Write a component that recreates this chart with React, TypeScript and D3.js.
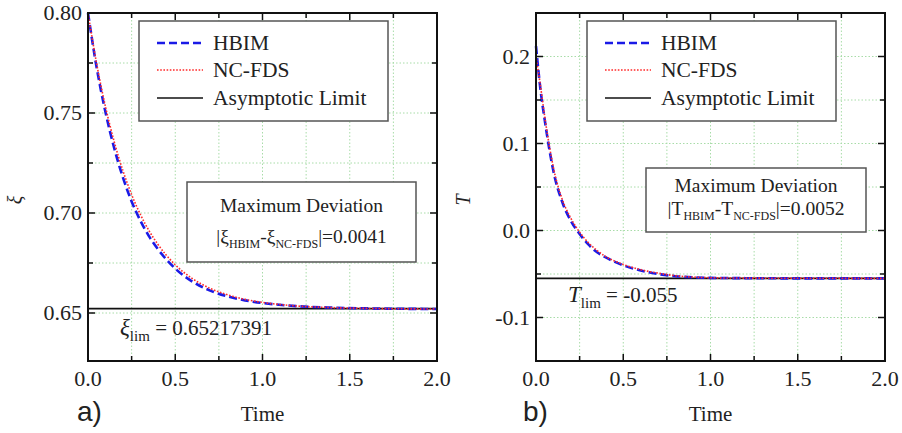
import React from 'react';
import * as d3 from 'd3';

// values
const timeA = [0, 0.05, 0.1, 0.15, 0.2, 0.25, 0.3, 0.35, 0.4, 0.5, 0.6, 0.7, 0.8, 0.9, 1.0, 1.2, 1.4, 1.6, 1.8, 2.0];
const xiHbim = [0.800, 0.7725, 0.7505, 0.7325, 0.7178, 0.7058, 0.6962, 0.6883, 0.6820, 0.6722, 0.6656, 0.6612, 0.6583, 0.6563, 0.6550, 0.6534, 0.6527, 0.6523, 0.6521, 0.6520];
const xiNcfds = [0.800, 0.7744, 0.7532, 0.7357, 0.7212, 0.7092, 0.6993, 0.6911, 0.6844, 0.6741, 0.6671, 0.6623, 0.6591, 0.6568, 0.6553, 0.6535, 0.6527, 0.6523, 0.6521, 0.6520];
const xiLim = 0.65217391;

const timeB = [0, 0.025, 0.05, 0.075, 0.1, 0.15, 0.2, 0.25, 0.3, 0.35, 0.4, 0.5, 0.6, 0.7, 0.8, 0.9, 1.0, 1.2, 1.5, 2.0];
const tHbim = [0.212, 0.163, 0.127, 0.095, 0.068, 0.033, 0.011, -0.004, -0.016, -0.025, -0.031, -0.040, -0.046, -0.050, -0.0525, -0.0538, -0.0544, -0.0548, -0.0550, -0.0550];
const tNcfds = [0.200, 0.167, 0.131, 0.099, 0.072, 0.036, 0.014, -0.002, -0.014, -0.023, -0.030, -0.039, -0.045, -0.049, -0.052, -0.0535, -0.0543, -0.0547, -0.0549, -0.0550];
const tLim = -0.055;

const xMajor = [0, 0.5, 1.0, 1.5, 2.0];
const xMinor = [0.25, 0.75, 1.25, 1.75];
const yMajorA = [0.65, 0.70, 0.75, 0.80];
const yMinorA = [0.675, 0.725, 0.775];
const yMajorB = [-0.1, 0.0, 0.1, 0.2];
const yMinorB = [-0.05, 0.05, 0.15];

const legendLabels = ['HBIM', 'NC-FDS', 'Asymptotic Limit'];

const SERIF = '"Liberation Serif", "Times New Roman", serif';
const BLUE = '#1a1ae6';
const RED = '#ff2a2a';
const GRID = '#a8dca8';

type PanelProps = {
  left: number;
  yDomain: [number, number];
  yMajor: number[];
  yMinor: number[];
  yFmt: (v: number) => string;
  time: number[];
  hbim: number[];
  ncfds: number[];
  lim: number;
  yLabel: string;
  tag: string;
  tagX: number;
  devBox: { x: number; y: number; w: number; h: number; b1: number; b2: number };
  sym: string;
  symItalic: boolean;
  devValue: string;
  limLabel: { x: number; y: number; value: string };
};

function Panel(p: PanelProps) {
  const top = 13, bottom = 361, width = 349;
  const x = d3.scaleLinear().domain([0, 2]).range([p.left, p.left + width]);
  const y = d3.scaleLinear().domain(p.yDomain).range([bottom, top]);
  const line = d3.line<number>()
    .x((_, i) => x(p.time[i]))
    .y(d => y(d))
    .curve(d3.curveMonotoneX);

  const xTicks = [...xMajor, ...xMinor];
  const yTicks = [...p.yMajor, ...p.yMinor];
  const legRows = [43, 70, 98];
  const lx = p.left + 51;
  const cx = p.devBox.x + p.devBox.w / 2;

  return (
    <g>
      {/* grid */}
      {xTicks.filter(t => t > 0 && t < 2).map(t => (
        <line key={'gx' + t} x1={x(t)} x2={x(t)} y1={top} y2={bottom}
          stroke={GRID} strokeWidth={1} strokeDasharray="1.5 2" />
      ))}
      {yTicks.map(t => (
        <line key={'gy' + t} x1={p.left} x2={p.left + width} y1={y(t)} y2={y(t)}
          stroke={GRID} strokeWidth={1} strokeDasharray="1.5 2" />
      ))}

      {/* curves */}
      <line x1={p.left} x2={p.left + width} y1={y(p.lim)} y2={y(p.lim)} stroke="#111" strokeWidth={1.6} />
      <path d={line(p.hbim) || ''} fill="none" stroke={BLUE} strokeWidth={2.6} strokeDasharray="8 4" />
      <path d={line(p.ncfds) || ''} fill="none" stroke={RED} strokeWidth={1.6} strokeDasharray="1.6 1.6" />

      {/* frame and ticks */}
      <rect x={p.left} y={top} width={width} height={bottom - top} fill="none" stroke="#111" strokeWidth={2} />
      {xTicks.map(t => {
        const len = xMajor.includes(t) ? 7 : 5;
        return (
          <g key={'tx' + t}>
            <line x1={x(t)} x2={x(t)} y1={bottom} y2={bottom - len} stroke="#111" strokeWidth={1.5} />
            <line x1={x(t)} x2={x(t)} y1={top} y2={top + len} stroke="#111" strokeWidth={1.5} />
          </g>
        );
      })}
      {yTicks.map(t => {
        const len = p.yMajor.includes(t) ? 7 : 5;
        return (
          <g key={'ty' + t}>
            <line x1={p.left} x2={p.left + len} y1={y(t)} y2={y(t)} stroke="#111" strokeWidth={1.5} />
            <line x1={p.left + width} x2={p.left + width - len} y1={y(t)} y2={y(t)} stroke="#111" strokeWidth={1.5} />
          </g>
        );
      })}

      {/* tick labels */}
      {xMajor.map(t => (
        <text key={'lx' + t} x={x(t)} y={386} textAnchor="middle" fontFamily={SERIF} fontSize={22} fill="#222">
          {t.toFixed(1)}
        </text>
      ))}
      {p.yMajor.map(t => (
        <text key={'ly' + t} x={p.left - 6} y={y(t) + 7} textAnchor="end" fontFamily={SERIF} fontSize={22} fill="#222">
          {p.yFmt(t)}
        </text>
      ))}

      {/* axis titles */}
      <text x={x(1)} y={421} textAnchor="middle" fontFamily={SERIF} fontSize={21} fill="#222">Time</text>
      <text transform={`translate(${p.left - 66},${200}) rotate(-90)`} textAnchor="middle"
        fontFamily={SERIF} fontStyle="italic" fontSize={20} fill="#222">{p.yLabel}</text>
      <text x={p.tagX} y={421} fontFamily='"Liberation Sans", Arial, sans-serif' fontSize={28} fill="#222">{p.tag}</text>

      {/* legend */}
      <rect x={lx} y={21} width={249} height={100} fill="#fff" stroke="#555" strokeWidth={1.5} />
      {legendLabels.map((lab, i) => (
        <g key={lab}>
          <line x1={p.left + 69} x2={p.left + 115} y1={legRows[i]} y2={legRows[i]}
            stroke={i === 0 ? BLUE : i === 1 ? RED : '#111'}
            strokeWidth={i === 0 ? 2.6 : 1.6}
            strokeDasharray={i === 0 ? '8 4' : i === 1 ? '1.6 1.6' : undefined} />
          <text x={p.left + 125} y={legRows[i] + 7} fontFamily={SERIF} fontSize={21.5} fill="#222">{lab}</text>
        </g>
      ))}

      {/* deviation box */}
      <rect x={p.devBox.x} y={p.devBox.y} width={p.devBox.w} height={p.devBox.h} fill="#fff" stroke="#555" strokeWidth={1.5} />
      <text x={cx} y={p.devBox.b1} textAnchor="middle" fontFamily={SERIF} fontSize={19.5} fill="#222">Maximum Deviation</text>
      <text x={cx} y={p.devBox.b2} textAnchor="middle" fontFamily={SERIF} fontSize={19.5} fill="#222">
        {'|' + p.sym}
        <tspan fontSize={12} dy={5}>HBIM</tspan>
        <tspan dy={-5}>{'-' + p.sym}</tspan>
        <tspan fontSize={12} dy={5}>NC-FDS</tspan>
        <tspan dy={-5}>{'|=' + p.devValue}</tspan>
      </text>

      {/* asymptotic value label */}
      <text x={p.limLabel.x} y={p.limLabel.y} fontFamily={SERIF} fontSize={21} fill="#222">
        <tspan fontStyle="italic" fontSize={23}>{p.symItalic ? p.sym : p.sym}</tspan>
        <tspan fontSize={15} dy={6}>lim</tspan>
        <tspan dy={-6}>{' = ' + p.limLabel.value}</tspan>
      </text>
    </g>
  );
}

export default function App() {
  return (
    <svg width={902} height={433} style={{ position: 'absolute', left: 0, top: 0, background: '#fff' }}>
      <rect width={902} height={433} fill="#fff" />
      <Panel
        left={88}
        yDomain={[0.626, 0.8]}
        yMajor={yMajorA}
        yMinor={yMinorA}
        yFmt={v => v.toFixed(2)}
        time={timeA}
        hbim={xiHbim}
        ncfds={xiNcfds}
        lim={xiLim}
        yLabel="ξ"
        tag="a)"
        tagX={77}
        devBox={{ x: 187, y: 182, w: 229, h: 80, b1: 212, b2: 243 }}
        sym="ξ"
        symItalic={true}
        devValue="0.0041"
        limLabel={{ x: 120, y: 335, value: '0.65217391' }}
      />
      <Panel
        left={536}
        yDomain={[-0.15, 0.25]}
        yMajor={yMajorB}
        yMinor={yMinorB}
        yFmt={v => v.toFixed(1)}
        time={timeB}
        hbim={tHbim}
        ncfds={tNcfds}
        lim={tLim}
        yLabel="T"
        tag="b)"
        tagX={523}
        devBox={{ x: 646, y: 168, w: 220, h: 64, b1: 192, b2: 215 }}
        sym="T"
        symItalic={true}
        devValue="0.0052"
        limLabel={{ x: 568, y: 302, value: '-0.055' }}
      />
    </svg>
  );
}
